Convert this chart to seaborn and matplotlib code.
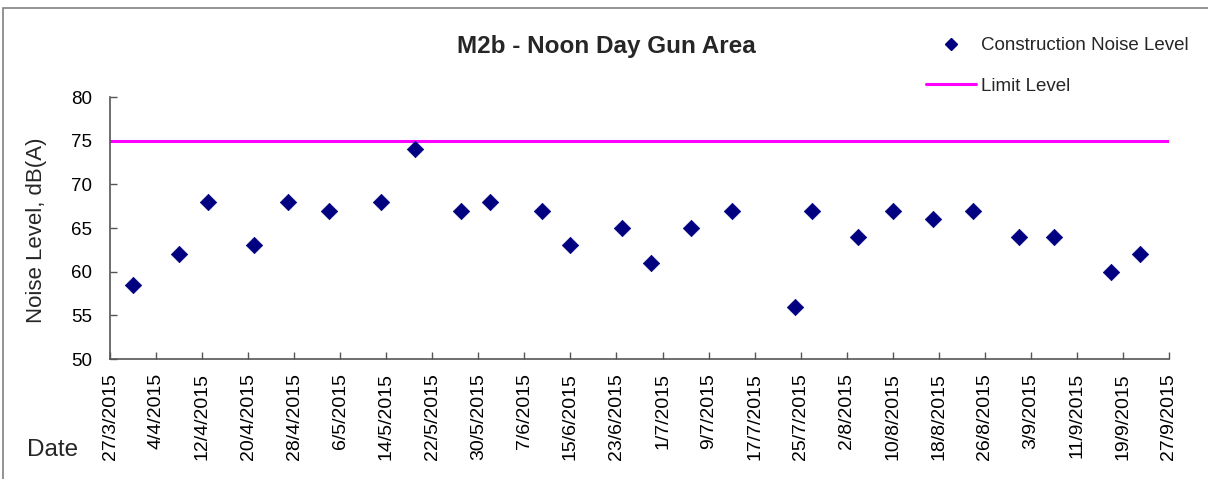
import matplotlib
matplotlib.use("Agg")
import matplotlib.pyplot as plt
import matplotlib.patches as mpatches
from matplotlib.lines import Line2D
import pandas as pd
import seaborn as sns

dates = ["2015-03-31", "2015-04-08", "2015-04-13", "2015-04-21", "2015-04-27",
         "2015-05-04", "2015-05-13", "2015-05-19", "2015-05-27", "2015-06-01",
         "2015-06-10", "2015-06-15", "2015-06-24", "2015-06-29", "2015-07-06",
         "2015-07-13", "2015-07-24", "2015-07-27", "2015-08-04", "2015-08-10",
         "2015-08-17", "2015-08-24", "2015-09-01", "2015-09-07", "2015-09-17",
         "2015-09-22"]
noise = [58.5, 62, 68, 63, 68,
         67, 68, 74, 67, 68,
         67, 63, 65, 61, 65,
         67, 56, 67, 64, 67,
         66, 67, 64, 64, 60,
         62]
limit_dates = ["2015-03-27", "2015-09-27"]
limit_level = [75, 75]

df = pd.DataFrame({"date": pd.to_datetime(dates), "level": noise})
lim = pd.DataFrame({"date": pd.to_datetime(limit_dates), "level": limit_level})

sns.set_style("white")
plt.rcParams["font.family"] = ["Liberation Sans", "DejaVu Sans"]

fig = plt.figure(figsize=(12.08, 4.79), dpi=100)
ax = fig.add_axes([110 / 1208, 1 - 359 / 479, (1169 - 110) / 1208, (359 - 97) / 479])

sns.lineplot(data=lim, x="date", y="level", color="#FF00FF", linewidth=2.2, ax=ax)
sns.scatterplot(data=df, x="date", y="level", marker="D", s=70, color="#000080",
                edgecolor="#000080", linewidth=0.5, ax=ax, zorder=3)

ticks = pd.date_range("2015-03-27", "2015-09-27", freq="8D")
ax.set_xticks(ticks)
ax.set_xticklabels([f"{d.day}/{d.month}/{d.year}" for d in ticks], rotation=90, fontsize=14)
ax.set_xlim(ticks[0], ticks[-1])
ax.set_ylim(50, 80)
ax.set_yticks(range(50, 81, 5))
ax.tick_params(axis="y", left=True, labelsize=13.5, direction="in", length=5, width=1,
               colors="#555555", labelcolor="black", pad=13)
ax.tick_params(axis="x", bottom=True, direction="in", length=5, width=1,
               colors="#555555", labelcolor="black", pad=10)
for s in ["top", "right"]:
    ax.spines[s].set_visible(False)
for s in ["left", "bottom"]:
    ax.spines[s].set_color("#555555")
    ax.spines[s].set_linewidth(1.2)

ax.set_xlabel("")
ax.set_ylabel("")
fig.text(37 / 1208, 1 - 230 / 479, "Noise Level, dB(A)", fontsize=16, rotation=90,
         ha="center", va="center")
fig.text(53 / 1208, 1 - 450 / 479, "Date", fontsize=17.5, ha="center", va="center")
fig.text(606 / 1208, 1 - 46 / 479, "M2b - Noon Day Gun Area", fontsize=17.5,
         fontweight="bold", ha="center", va="center")

handles = [Line2D([], [], marker="D", color="#000080", linestyle="none", markersize=6),
           Line2D([], [], color="#FF00FF", linewidth=2.2)]
fig.legend(handles, ["Construction Noise Level", "Limit Level"], loc="upper left",
           bbox_to_anchor=(926 / 1208, 1 - 37 / 479), frameon=False, fontsize=13.5,
           labelspacing=1.25, handlelength=2.67, handletextpad=0.27,
           borderpad=0, borderaxespad=0)

# outer chart frame
fig.add_artist(mpatches.Rectangle((3 / 1208, -0.1), 1.2, 1.1 - 8 / 479, fill=False,
                                  edgecolor="#808080", linewidth=1.2,
                                  transform=fig.transFigure))

fig.savefig("out.png", dpi=100)
